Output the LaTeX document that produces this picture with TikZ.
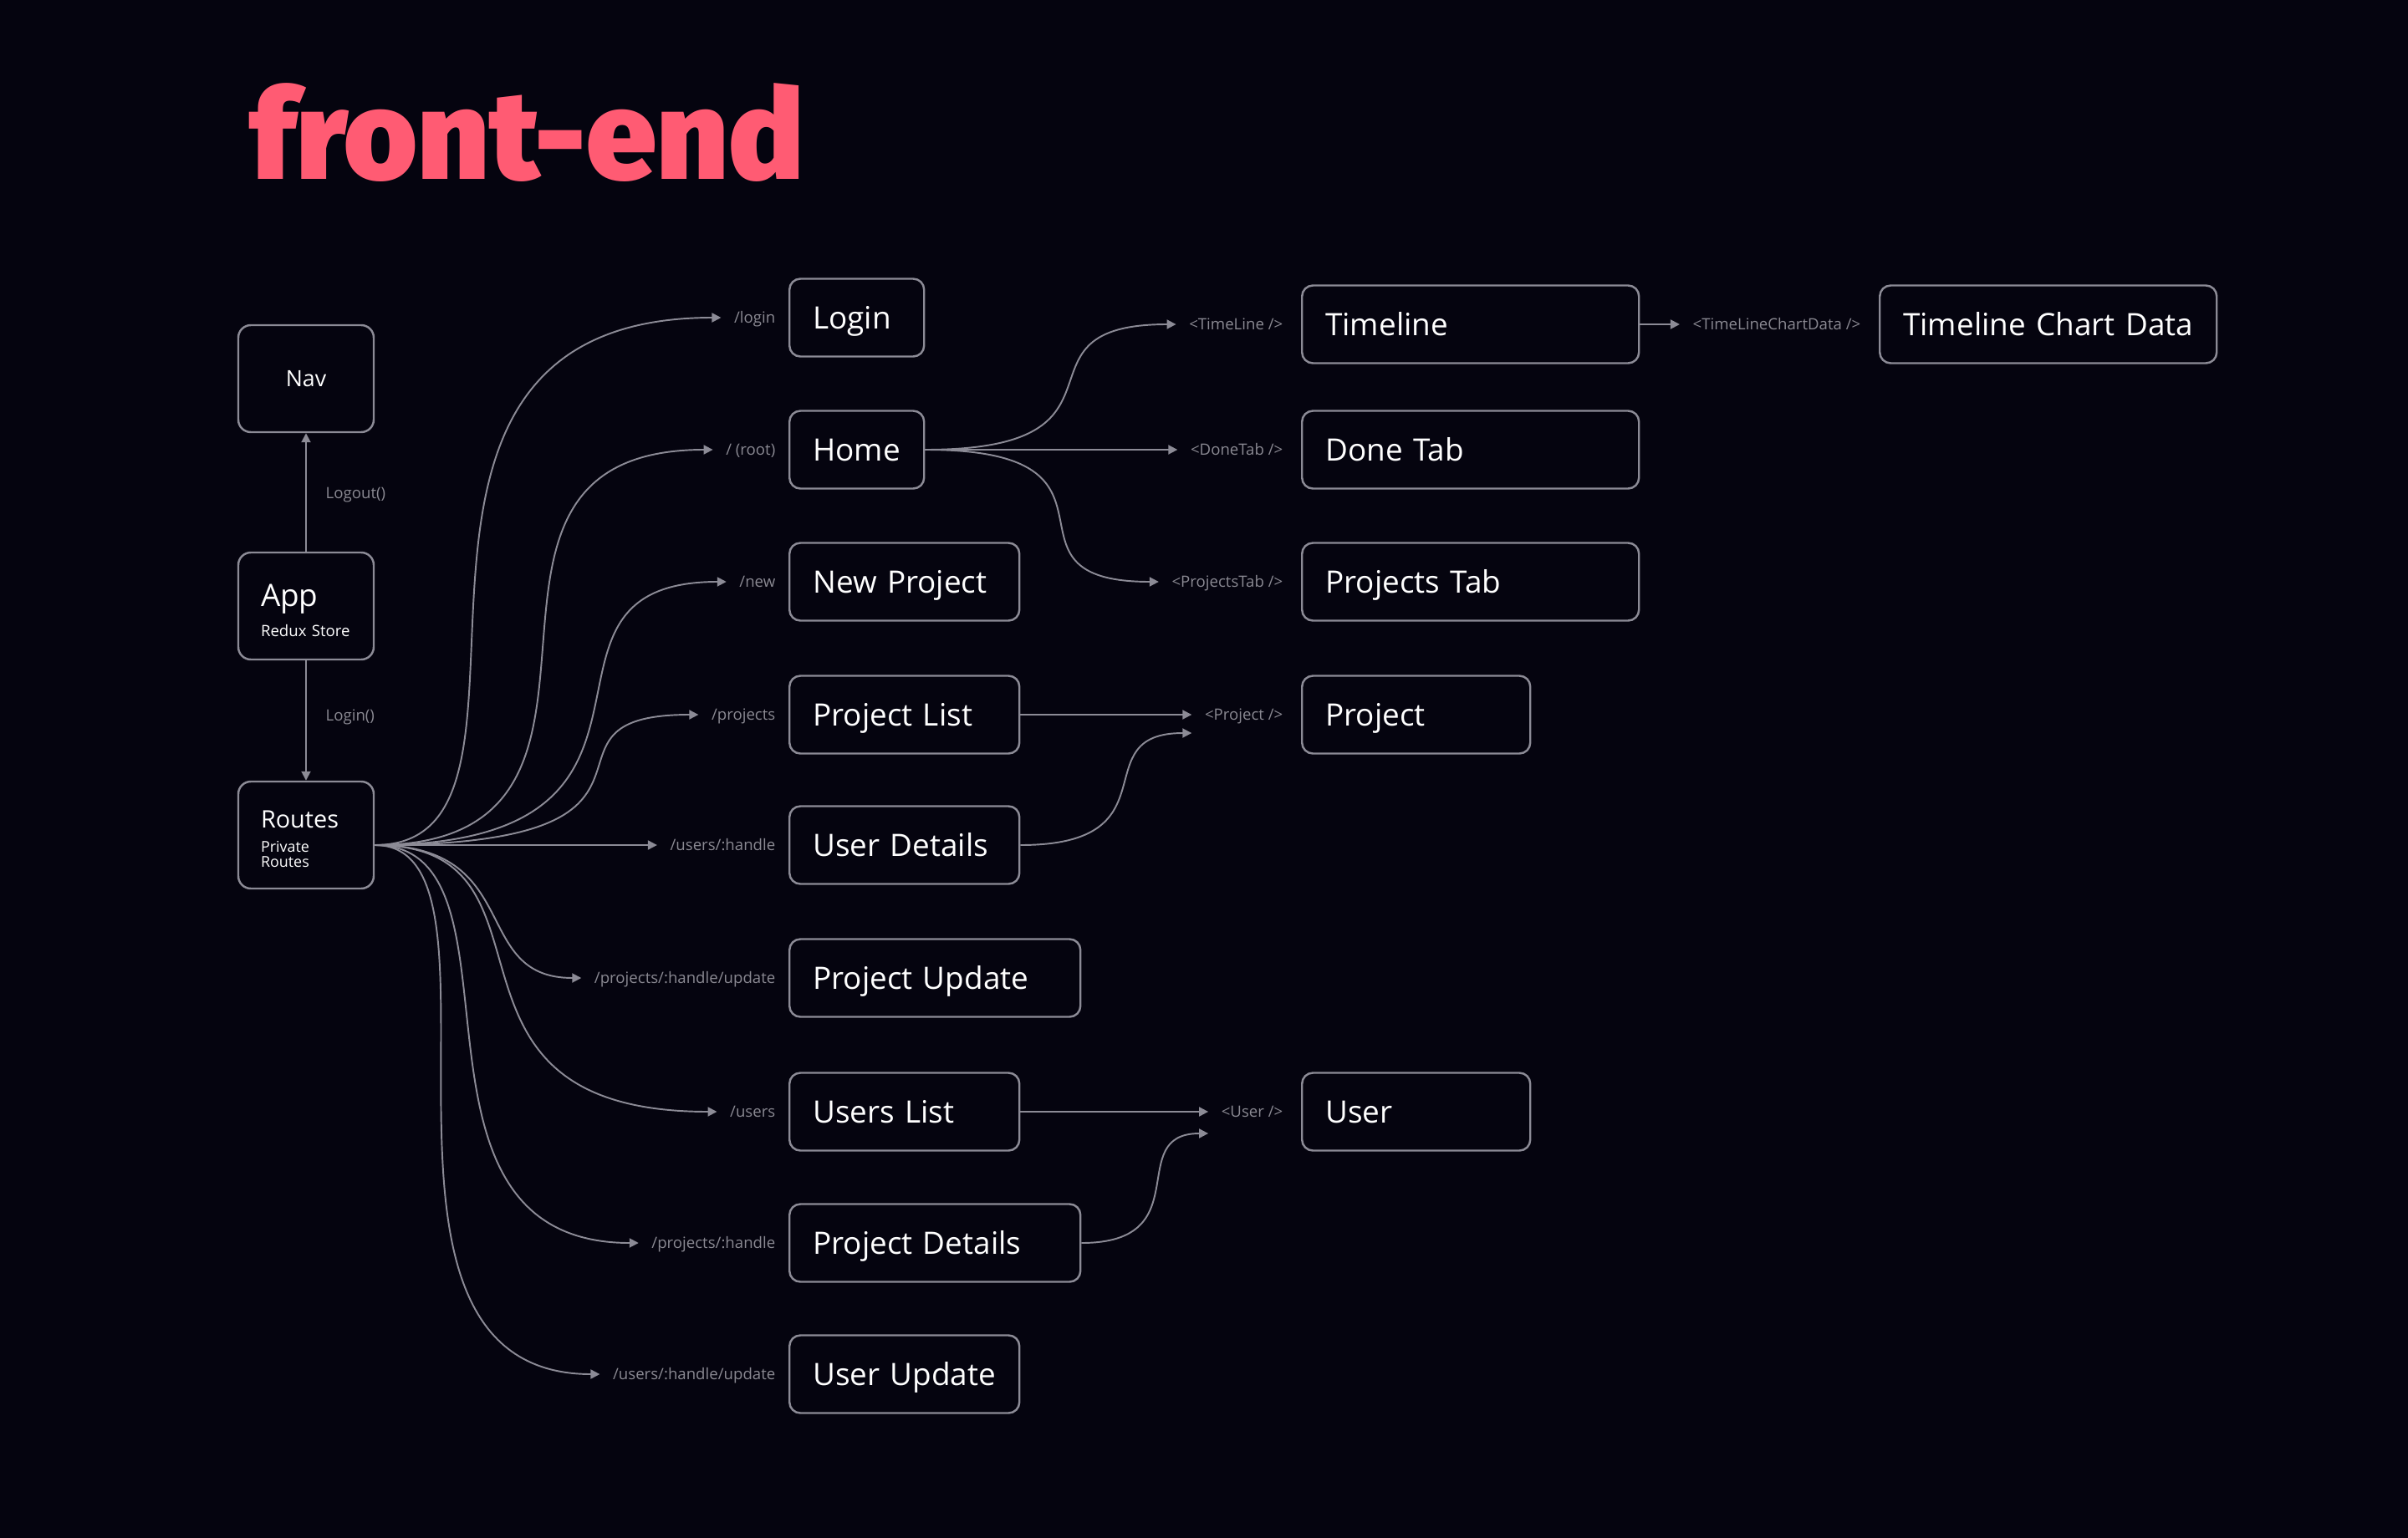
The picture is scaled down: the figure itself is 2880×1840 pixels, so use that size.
\documentclass[tikz,border=0pt]{standalone}
\usepackage{fontspec}
\setmainfont{Open Sans}
\IfFontExistsTF{Fira Sans Black}{\newfontfamily\titlefont{Fira Sans Black}}{\newfontfamily\titlefont{Open Sans}[UprightFont=* Bold]}
\usetikzlibrary{arrows.meta, positioning, calc}

\definecolor{bg}{HTML}{05040F}
\definecolor{edge}{HTML}{8C8B96}
\definecolor{dim}{HTML}{8A8992}
\definecolor{heading}{HTML}{FF5B73}

\begin{document}
\begin{tikzpicture}[x=0.1mm, y=-0.1mm,
    comp/.style={draw=edge, line width=0.7pt, rounded corners=1.3mm, minimum height=9.3mm, inner xsep=2.8mm, inner ysep=0pt, text width=#1, text height=7.5pt, text depth=0pt, align=left, text=white, font=\fontsize{10.5}{12}\selectfont},
    shell/.style={draw=edge, line width=0.7pt, rounded corners=1.5mm, minimum height=12.8mm, inner xsep=2.7mm, inner ysep=0pt, text width=10.8mm, align=left, text=white},
    route/.style={text=dim, font=\fontsize{5.3}{6}\selectfont, inner xsep=1.5mm, inner ysep=0pt, text height=3.8pt, text depth=0pt},
    link/.style={draw=edge, line width=0.55pt, -{Triangle[length=1.1mm, width=1.1mm]}}]

      \fill[bg] (0, 0) rectangle (2880, 1840);

      \node[anchor=base west, inner sep=0pt, text=heading, font=\titlefont\fontsize{42.8}{43}\selectfont] (title) at (298, 214) {front-end};

      \node[shell, align=center, font=\fontsize{7.6}{9}\selectfont, text height=5.4pt, text depth=0pt] (nav) at (366, 453) {Nav};
      \node[shell, font=\fontsize{5.3}{6}\selectfont] (app) at (366, 725) {{\fontsize{10.5}{12}\selectfont\rule{0pt}{10.6pt}App}\\[2.5pt]Redux Store};
      \node[shell, font=\fontsize{5.1}{5.1}\selectfont] (routes) at (366, 999) {{\fontsize{8.2}{9}\selectfont\rule{0pt}{8.5pt}Routes}\\[3.1pt]Private\\Routes};

      \node[comp=10.5mm, anchor=west] (login) at (943, 380) {Login};
      \node[comp=10.5mm, anchor=west] (home) at (943, 538) {Home};
      \node[comp=21.9mm, anchor=west] (newproj) at (943, 696) {New Project};
      \node[comp=21.9mm, anchor=west] (projlist) at (943, 855) {Project List};
      \node[comp=21.9mm, anchor=west] (userdet) at (943, 1011) {User Details};
      \node[comp=29.2mm, anchor=west] (projupd) at (943, 1170) {Project Update};
      \node[comp=21.9mm, anchor=west] (userlist) at (943, 1330) {Users List};
      \node[comp=29.2mm, anchor=west] (projdet) at (943, 1487) {Project Details};
      \node[comp=21.9mm, anchor=west] (userupd) at (943, 1644) {User Update};

      \node[comp=34.7mm, anchor=west] (timeline) at (1556, 388) {Timeline};
      \node[comp=34.7mm, anchor=west] (donetab) at (1556, 538) {Done Tab};
      \node[comp=34.7mm, anchor=west] (projtab) at (1556, 696) {Projects Tab};
      \node[comp=21.7mm, anchor=west] (project) at (1556, 855) {Project};
      \node[comp=21.7mm, anchor=west] (user) at (1556, 1330) {User};
      \node[comp=34.7mm, anchor=west] (chartdata) at (2247, 388) {Timeline Chart Data};

      \node[route, left=0mm of login] (r-login) {/login};
      \node[route, left=0mm of home] (r-root) {/ (root)};
      \node[route, left=0mm of newproj] (r-new) {/new};
      \node[route, left=0mm of projlist] (r-projects) {/projects};
      \node[route, left=0mm of userdet] (r-user) {/users/:handle};
      \node[route, left=0mm of projupd] (r-projupd) {/projects/:handle/update};
      \node[route, left=0mm of userlist] (r-users) {/users};
      \node[route, left=0mm of projdet] (r-projdet) {/projects/:handle};
      \node[route, left=0mm of userupd] (r-userupd) {/users/:handle/update};

      \node[route, left=0.6mm of timeline] (r-timeline) {<TimeLine />};
      \node[route, left=0.6mm of donetab] (r-donetab) {<DoneTab />};
      \node[route, left=0.6mm of projtab] (r-projtab) {<ProjectsTab />};
      \node[route, left=0.6mm of project] (r-project) {<Project />};
      \node[route, left=0.6mm of user] (r-userc) {<User />};
      \node[route, left=0.6mm of chartdata] (r-chartdata) {<TimeLineChartData />};

      \node[route, inner xsep=0pt, anchor=west] (logout) at (389, 590) {Logout()};
      \node[route, inner xsep=0pt, anchor=west] (loginfn) at (389, 856) {Login()};

      \draw[link] (app) -- (nav);
      \draw[link] (app) -- (routes);

      \coordinate (fan) at ($(routes.east) + (0, 12)$);
      \draw[link] (fan) .. controls +(250, 0) and +(-480, 0) .. (r-login.west);
      \draw[link] (fan) .. controls +(362, 0) and +(-362, 0) .. (r-root.west);
      \draw[link] (fan) .. controls +(413, 0) and +(-273, 0) .. (r-new.west);
      \draw[link] (fan) .. controls +(410, 0) and +(-224, 0) .. (r-projects.west);
      \draw[link] (fan) -- (r-user.west);
      \draw[link] (fan) .. controls +(181, 0) and +(-135, 0) .. (r-projupd.west);
      \draw[link] (fan) .. controls +(243, 0) and +(-370, 0) .. (r-users.west);
      \draw[link] (fan) .. controls +(197, 0) and +(-311, 0) .. (r-projdet.west);
      \draw[link] (fan) .. controls +(185, 0) and +(-329, 0) .. (r-userupd.west);

      \draw[link] (home.east) .. controls +(270, 0) and +(-211, 0) .. (r-timeline.west);
      \draw[link] (home.east) -- (r-donetab.west);
      \draw[link] (home.east) .. controls +(270, 0) and +(-211, 0) .. (r-projtab.west);
      \draw[link] (timeline) -- (r-chartdata);

      \draw[link] (projlist) -- (r-project);
      \draw[link] (userdet.east) .. controls +(188, 0) and +(-132, 0) .. ($(r-project.west) + (0, 22)$);
      \draw[link] (userlist) -- (r-userc);
      \draw[link] (projdet.east) .. controls +(142, 0) and +(-102, 0) .. ($(r-userc.west) + (0, 26)$);
    \end{tikzpicture}
\end{document}
